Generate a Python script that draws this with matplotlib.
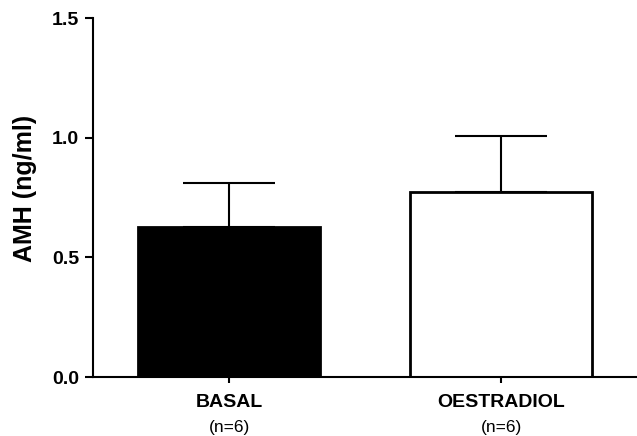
import matplotlib.pyplot as plt

# Datos
groups = ["BASAL", "OESTRADIOL"]
n_labels = ["(n=6)", "(n=6)"]
amh_mean = [0.626, 0.772]
amh_sem = [0.184, 0.235]
bar_colors = ["black", "white"]

plt.rcParams.update({
    "font.family": ["Liberation Sans", "DejaVu Sans"],
})

fig = plt.figure(figsize=(6.37, 4.36), dpi=100)
ax = fig.add_axes([0.146, 0.1353, 0.854, 0.8234])

x = list(range(len(groups)))
ax.bar(x, amh_mean, width=0.67, color=bar_colors, edgecolor="black",
       linewidth=2, zorder=2)
ax.errorbar(x, amh_mean, yerr=[[0] * len(x), amh_sem], fmt="none",
            ecolor="black", elinewidth=1.5, capsize=33, capthick=1.5, zorder=1)

ax.set_xlim(-0.5, 1.5)
ax.set_ylim(0, 1.5)
ax.set_yticks([0, 0.5, 1.0, 1.5])
ax.set_yticklabels(["0.0", "0.5", "1.0", "1.5"], fontsize=14, fontweight="bold")
ax.set_xticks(x)
ax.set_xticklabels(groups, fontsize=14, fontweight="bold")
ax.tick_params(axis="y", direction="out", length=6, width=1.5, pad=4)
ax.tick_params(axis="x", direction="out", length=4, width=1.5, pad=8)

for xi, lab in zip(x, n_labels):
    ax.annotate(lab, xy=(xi, 0), xycoords=("data", "axes fraction"),
                xytext=(0, -36.5), textcoords="offset points",
                ha="center", va="center", fontsize=12.5)

ax.set_ylabel("AMH (ng/ml)", fontsize=18, fontweight="bold")
ax.yaxis.set_label_coords(-0.103, 0.526)

for s in ["top", "right"]:
    ax.spines[s].set_visible(False)
for s in ["left", "bottom"]:
    ax.spines[s].set_linewidth(1.5)

plt.savefig("out.png", dpi=100)
